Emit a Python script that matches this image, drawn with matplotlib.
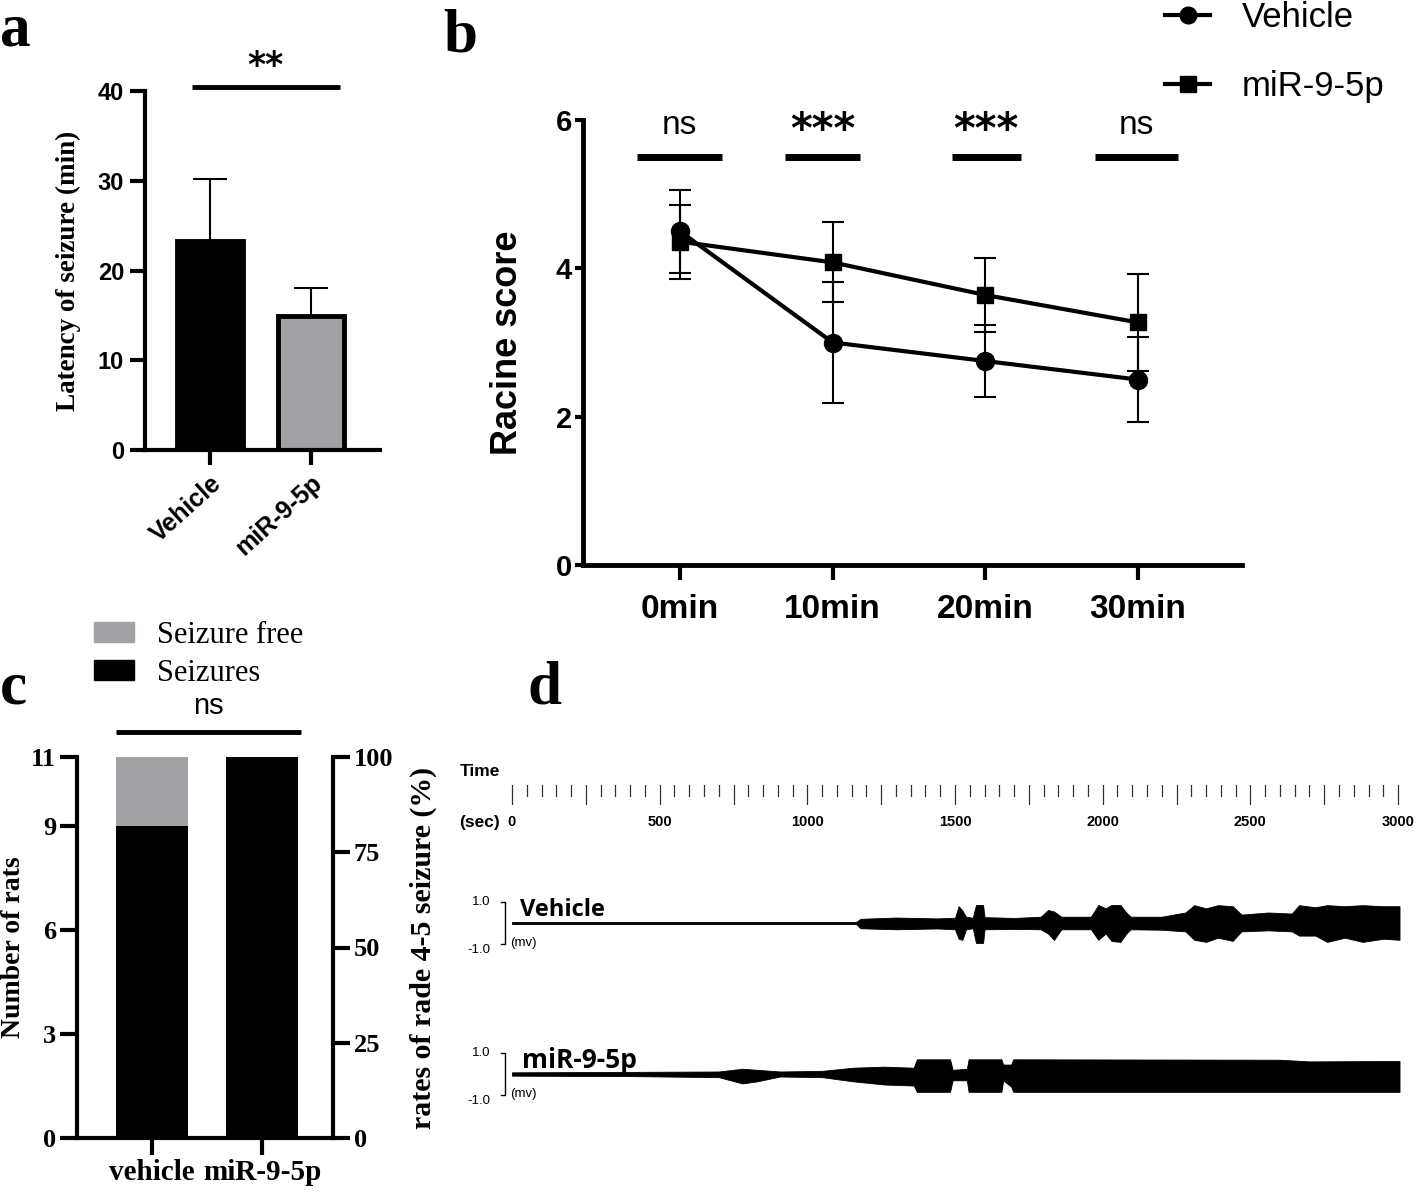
import numpy as np
import matplotlib
matplotlib.use('Agg')
import matplotlib.pyplot as plt
from matplotlib.lines import Line2D
from matplotlib.patches import Patch

# ---- data ----
# a: latency of seizure (min), mean + SD
a_groups = ['Vehicle', 'miR-9-5p']
a_latency = [23.3, 14.9]
a_sd = [6.9, 3.2]

# b: Racine score over time
b_times = ['0min', '10min', '20min', '30min']
b_vehicle = [4.50, 3.00, 2.75, 2.50]
b_vehicle_sd = [0.56, 0.82, 0.49, 0.57]
b_mir = [4.36, 4.08, 3.64, 3.27]
b_mir_sd = [0.50, 0.54, 0.50, 0.65]
b_sig = ['ns', '***', '***', 'ns']

# c: number of rats
c_groups = ['vehicle', 'miR-9-5p']
c_seizures = [9, 11]
c_free = [2, 0]

# d: EEG traces, envelope (upper / lower, mV) read at time points (sec)
veh_t = [0, 1165, 1180, 1300, 1440, 1500, 1512, 1525, 1537, 1560, 1571, 1595,
         1600, 1700, 1790, 1815, 1835, 1860, 1960, 1985, 2010, 2030, 2060,
         2080, 2095, 2200, 2280, 2310, 2350, 2390, 2440, 2470, 2560, 2640,
         2665, 2720, 2760, 2820, 2880, 2950, 3005]
veh_hi = [0.05, 0.05, 0.20, 0.26, 0.22, 0.25, 0.80, 0.60, 0.30, 0.25, 0.86, 0.86,
          0.28, 0.24, 0.30, 0.62, 0.55, 0.30, 0.30, 0.86, 0.70, 0.86, 0.86,
          0.50, 0.30, 0.30, 0.50, 0.85, 0.70, 0.85, 0.80, 0.40, 0.50, 0.45,
          0.85, 0.75, 0.85, 0.80, 0.85, 0.80, 0.80]
veh_lo = [-0.05, -0.05, -0.25, -0.30, -0.26, -0.30, -0.75, -0.80, -0.30, -0.25, -0.95, -0.95,
          -0.30, -0.28, -0.30, -0.50, -0.81, -0.30, -0.30, -0.80, -0.50, -0.86, -0.90,
          -0.50, -0.30, -0.32, -0.40, -0.80, -0.90, -0.70, -0.85, -0.40, -0.35, -0.40,
          -0.60, -0.60, -0.90, -0.70, -0.90, -0.75, -0.80]
mir_t = [0, 400, 700, 780, 830, 907, 1050, 1155, 1260, 1360, 1371, 1483, 1492,
         1540, 1546, 1657, 1663, 1690, 1697, 2600, 2700, 3005]
mir_hi = [0.08, 0.10, 0.12, 0.25, 0.20, 0.12, 0.15, 0.30, 0.35, 0.30, 0.70, 0.70, 0.20,
          0.25, 0.70, 0.70, 0.45, 0.45, 0.70, 0.68, 0.60, 0.62]
mir_lo = [-0.08, -0.10, -0.15, -0.45, -0.35, -0.12, -0.15, -0.35, -0.50, -0.55, -0.85, -0.85, -0.30,
          -0.30, -0.85, -0.85, -0.30, -0.60, -0.85, -0.85, -0.85, -0.85]
time_ticks = np.arange(0, 3001, 50)
time_labels = [0, 500, 1000, 1500, 2000, 2500, 3000]

W, H = 1416, 1193
SERIF = 'Liberation Serif'
SANS = 'Liberation Sans'
GREY = '#a2a2a6'


def rect(l, t, r, b):
    return [l / W, 1 - b / H, (r - l) / W, (b - t) / H]


def fx(x):
    return x / W


def fy(y):
    return 1 - y / H


def clean(ax, lw=3):
    ax.spines['top'].set_visible(False)
    ax.spines['right'].set_visible(False)
    ax.spines['left'].set_linewidth(lw)
    ax.spines['bottom'].set_linewidth(lw)


fig = plt.figure(figsize=(W / 100, H / 100), dpi=100)

# ---------------- a ----------------
ax = fig.add_axes(rect(145, 91, 380, 450))
xa = np.arange(len(a_groups))
ax.errorbar(xa, a_latency, yerr=[[0, 0], a_sd], fmt='none', ecolor='black',
            elinewidth=1.5, capsize=12, capthick=1.5, zorder=1)
ax.bar(xa, a_latency, width=0.66, color=['black', GREY], edgecolor='black',
       linewidth=3.5, zorder=2)
ax.set_xlim(-0.644, 1.683)
ax.set_ylim(0, 40)
ax.set_yticks([0, 10, 20, 30, 40])
ax.set_xticks(xa)
ax.set_xticklabels(a_groups, rotation=42, ha='right', rotation_mode='anchor')
clean(ax)
ax.tick_params(width=3, length=11, labelsize=17, pad=4)
for lab in ax.get_xticklabels() + ax.get_yticklabels():
    lab.set_fontfamily(SANS)
    lab.set_fontweight('bold')
for lab in ax.get_xticklabels():
    lab.set_fontsize(18)
ax.set_ylabel('Latency of seizure (min)', family=SERIF, fontweight='bold',
              fontsize=19.5, labelpad=12)
ax.plot([-0.18, 1.29], [40.45, 40.45], color='black', lw=3.5, clip_on=False,
        solid_capstyle='butt')
ax.text(0.545, 42.8, '**', ha='center', va='center', fontsize=25,
        fontweight='bold', family='DejaVu Sans')

# ---------------- b ----------------
axb = fig.add_axes(rect(583, 120, 1242, 565))
xb = np.arange(len(b_times))
axb.errorbar(xb, b_vehicle, yerr=b_vehicle_sd, color='black', lw=3, marker='o',
             ms=13, elinewidth=1.5, capsize=8, capthick=1.5)
axb.errorbar(xb, b_mir, yerr=b_mir_sd, color='black', lw=3, marker='s',
             ms=12, elinewidth=1.5, capsize=8, capthick=1.5)
axb.set_xlim(-0.635, 3.68)
axb.set_ylim(0, 6)
axb.set_yticks([0, 2, 4, 6])
axb.set_xticks(xb)
axb.set_xticklabels(b_times)
clean(axb, 3.5)
axb.tick_params(axis='x', width=3, length=11, labelsize=24, pad=10)
axb.tick_params(axis='y', width=3, length=6, labelsize=21, pad=2)
for lab in axb.get_xticklabels() + axb.get_yticklabels():
    lab.set_fontfamily(SANS)
    lab.set_fontweight('bold')
axb.set_ylabel('Racine score', family=SANS, fontweight='bold', fontsize=26,
               labelpad=22)
sig_spans = [(-0.28, 0.275), (-0.31, 0.18), (-0.22, 0.23), (-0.28, 0.26)]
for i, (lab, (s0, s1)) in enumerate(zip(b_sig, sig_spans)):
    axb.plot([i + s0, i + s1], [5.5, 5.5], color='black', lw=5,
             solid_capstyle='butt', clip_on=False)
    if lab == 'ns':
        axb.text(i + (s0 + s1) / 2, 5.92, lab, ha='center', va='center',
                 fontsize=24, family=SANS)
    else:
        axb.text(i + (s0 + s1) / 2, 5.85, lab, ha='center', va='center',
                 fontsize=30, fontweight='bold', family='DejaVu Sans')

handles_b = [Line2D([0], [0], color='black', lw=3, marker='o', ms=12),
             Line2D([0], [0], color='black', lw=3, marker='s', ms=11)]
fig.legend(handles_b, ['Vehicle', 'miR-9-5p'], loc='upper left',
           bbox_to_anchor=(fx(1165), fy(1)), frameon=False,
           prop={'family': SANS, 'size': 25}, handlelength=1.3,
           handletextpad=0.9, labelspacing=1.05, borderpad=0, borderaxespad=0)

# ---------------- c ----------------
axc = fig.add_axes(rect(77, 757, 333, 1138))
xc = np.arange(len(c_groups))
axc.bar(xc, c_seizures, width=0.66, color='black')
axc.bar(xc, c_free, bottom=c_seizures, width=0.66, color=GREY)
axc.set_xlim(-0.68, 1.645)
axc.set_ylim(0, 11)
axc.set_yticks([0, 3, 6, 9, 11])
axc.set_xticks(xc)
axc.set_xticklabels(c_groups)
clean(axc)
axc.tick_params(width=3, length=12, labelsize=19, pad=3)
for lab in axc.get_xticklabels() + axc.get_yticklabels():
    lab.set_fontfamily(SERIF)
    lab.set_fontweight('bold')
for lab in axc.get_xticklabels():
    lab.set_fontsize(21)
axc.set_ylabel('Number of rats', family=SERIF, fontweight='bold', fontsize=20,
               labelpad=4)
axr = axc.twinx()
axr.set_ylim(0, 100)
axr.set_yticks([0, 25, 50, 75, 100])
axr.spines['top'].set_visible(False)
axr.spines['left'].set_visible(False)
axr.spines['bottom'].set_visible(False)
axr.spines['right'].set_linewidth(3)
axr.tick_params(width=3, length=12, labelsize=19, pad=3)
for lab in axr.get_yticklabels():
    lab.set_fontfamily(SERIF)
    lab.set_fontweight('bold')
axr.set_ylabel('rates of rade 4-5 seizure (%)', family=SERIF,
               fontweight='bold', fontsize=21.5, labelpad=12)
axc.plot([-0.33, 1.35], [11.72, 11.72], color='black', lw=3.5, clip_on=False,
         solid_capstyle='butt')
axc.text(0.51, 12.48, 'ns', ha='center', va='center', fontsize=21, family=SANS)
handles_c = [Patch(color=GREY), Patch(color='black')]
fig.legend(handles_c, ['Seizure free', 'Seizures'], loc='upper left',
           bbox_to_anchor=(fx(94), fy(621)), frameon=False,
           prop={'family': SERIF, 'size': 22}, handlelength=1.3,
           handleheight=0.65, handletextpad=0.75, labelspacing=0.28,
           borderpad=0, borderaxespad=0)

# ---------------- d ----------------
tlo, thi = -23.7, 3010
axt = fig.add_axes(rect(505, 785, 1401, 805))
axt.set_xlim(tlo, thi)
axt.set_ylim(0, 1)
axt.axis('off')
for t in time_ticks:
    y0 = 0.05 if t % 250 == 0 else 0.45
    axt.plot([t, t], [y0, 1], color='#333333', lw=0.9)
for t in time_labels:
    axt.text(t, -0.85, str(t), ha='center', va='center', fontsize=10.5,
             fontweight='bold', family=SANS)
fig.text(fx(460), fy(772), 'Time', ha='left', va='center', fontsize=12.5,
         fontweight='bold', family=SANS)
fig.text(fx(459), fy(822), '(sec)', ha='left', va='center', fontsize=12.5,
         fontweight='bold', family=SANS)

for (top, bot, tt, hi, lo, name, nx, nsize) in [
        (902, 944, veh_t, veh_hi, veh_lo, 'Vehicle', 520, 17),
        (1053, 1095, mir_t, mir_hi, mir_lo, 'miR-9-5p', 522, 19)]:
    axd = fig.add_axes(rect(505, top, 1401, bot))
    axd.set_xlim(tlo, thi)
    axd.set_ylim(-1, 1)
    axd.axis('off')
    axd.fill_between(tt, hi, lo, color='black', lw=0.6, edgecolor='black')
    axd.plot([tlo - 12, tlo, tlo, tlo - 12], [1, 1, -1, -1], color='black',
             lw=1, clip_on=False)
    fig.text(fx(490), fy(top), '1.0', ha='right', va='center', fontsize=9.5,
             family=SANS)
    fig.text(fx(490), fy(bot + 6), '-1.0', ha='right', va='center',
             fontsize=9.5, family=SANS)
    fig.text(fx(510), fy(bot - 1), '(mv)', ha='left', va='center',
             fontsize=9.5, family=SANS)
    fig.text(fx(nx), fy(top + 8), name, ha='left', va='center', fontsize=nsize,
             family='Open Sans', fontweight='bold')

# panel letters
for letter, x, y in [('a', 0, 30), ('b', 443, 36), ('c', 0, 688), ('d', 528, 688)]:
    fig.text(fx(x), fy(y), letter, ha='left', va='center', fontsize=44,
             fontweight='bold', family=SERIF)

fig.savefig('out.png', dpi=100)
